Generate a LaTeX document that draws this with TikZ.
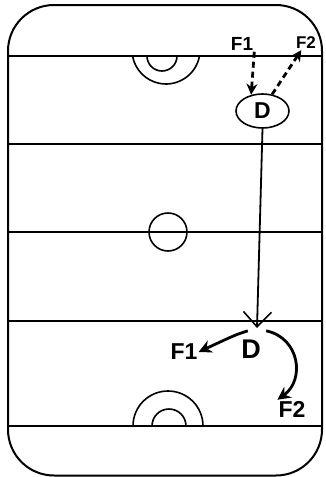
\documentclass[tikz,border=0pt]{standalone}
\usepackage{fontspec}
\setmainfont{Liberation Sans}
\usetikzlibrary{arrows.meta,shapes.geometric}

\begin{document}
\begin{tikzpicture}[x=1pt,y=-1pt,>=stealth,
    rink/.style={line width=2pt},
    markline/.style={line width=1.6pt},
    player/.style={font=\bfseries\fontsize{#1}{#1}\selectfont,inner sep=1pt},
    pass/.style={line width=2.8pt,dash pattern=on 6pt off 4pt,-{Stealth[length=11pt,width=11pt]}},
    skate/.style={line width=2.8pt,-{Stealth[length=13pt,width=13pt]}}]
  \useasboundingbox (0,0) rectangle (325,477);

  % boards and lines
  \draw[rink,rounded corners=46pt] (8,5) rectangle (322,475.5);
  \foreach \y in {56,144,232,321,426}
    \draw[rink] (8,\y) -- (322,\y);

  % face-off circles
  \draw[markline] (166,50) ++(10.2:34) arc[start angle=10.2,end angle=169.8,radius=34];
  \draw[markline] (162,56) ++(0:15) arc[start angle=0,end angle=180,radius=15];
  \draw[markline] (168,232) circle[radius=19];
  \draw[markline] (168,426) ++(180:35) arc[start angle=180,end angle=360,radius=35];
  \draw[markline] (169,426) ++(180:17) arc[start angle=180,end angle=360,radius=17];

  % players, top
  \node[player=19] (f1a) at (242,44) {F1};
  \node[player=17] (f2a) at (306,43) {F2};
  \node[ellipse,draw,markline,minimum width=53pt,minimum height=34pt,inner sep=0pt,
        font=\bfseries\fontsize{23}{23}\selectfont] (dtop) at (262.5,111) {D};

  % players, bottom
  \node[player=27,minimum width=30pt,minimum height=36pt] (dbot) at (251,349) {D};
  \node[player=23] (f1b) at (184,352) {F1};
  \node[player=23] (f2b) at (292,409) {F2};
  \coordinate (vtip) at (257,328);

  % moves
  \draw[pass] (f1a.south east) -- (dtop.125);
  \draw[pass] (dtop.60) -- (f2a);
  \draw[line width=1.8pt,-{Straight Barb[length=15pt,width=28pt,line width=1.6pt]}]
    (dtop.south) -- (vtip);
  \draw[skate] (dbot.100) .. controls (235,335) .. (f1b.east);
  \draw[skate] (dbot.north east) .. controls (300,338) and (305,380) .. (f2b.north west);
\end{tikzpicture}
\end{document}
